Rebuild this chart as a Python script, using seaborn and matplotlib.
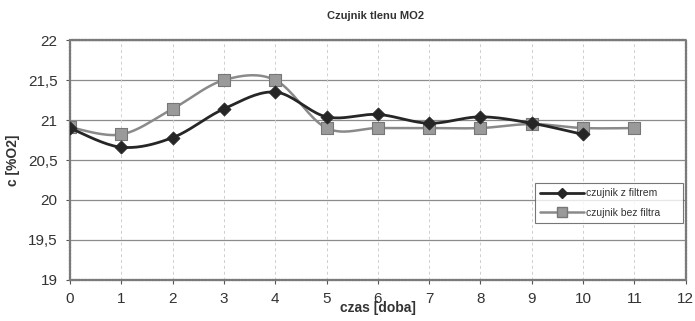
import numpy as np
import pandas as pd
import matplotlib
matplotlib.use("Agg")
import matplotlib.pyplot as plt
import seaborn as sns

title = "Czujnik tlenu MO2"
xlabel = "czas [doba]"
ylabel = "c [%O2]"
series_names = ["czujnik z filtrem", "czujnik bez filtra"]
days_filter = [0, 1, 2, 3, 4, 5, 6, 7, 8, 9, 10]
vals_filter = [20.9, 20.66, 20.78, 21.14, 21.35, 21.04, 21.07, 20.96, 21.04, 20.96, 20.82]
days_nofilter = [0, 1, 2, 3, 4, 5, 6, 7, 8, 9, 10, 11]
vals_nofilter = [20.91, 20.82, 21.14, 21.5, 21.5, 20.9, 20.9, 20.9, 20.9, 20.95, 20.9, 20.9]
yticks = [19, 19.5, 20, 20.5, 21, 21.5, 22]
ytick_labels = ["19", "19,5", "20", "20,5", "21", "21,5", "22"]
xticks = list(range(0, 13))

sns.set_theme(style="white")
plt.rcParams['font.family'] = ['Liberation Sans', 'DejaVu Sans']

fig = plt.figure(figsize=(6.95, 3.21), dpi=100)
ax = fig.add_axes([0.1007, 0.128, 0.886, 0.747])


def smooth(x, y, n=20):
    # Catmull-Rom style smoothing for drawing the curve through data points
    x = np.asarray(x, float); y = np.asarray(y, float)
    px = np.concatenate([[x[0]], x, [x[-1]]])
    py = np.concatenate([[y[0]], y, [y[-1]]])
    ox, oy = [], []
    for i in range(1, len(px) - 2):
        p0, p1, p2, p3 = (np.array([px[j], py[j]]) for j in (i - 1, i, i + 1, i + 2))
        c1 = p1 + (p2 - p0) / 6
        c2 = p2 - (p3 - p1) / 6
        t = np.linspace(0, 1, n, endpoint=(i == len(px) - 3))
        pts = ((1 - t) ** 3)[:, None] * p1 + (3 * (1 - t) ** 2 * t)[:, None] * c1 + \
              (3 * (1 - t) * t ** 2)[:, None] * c2 + (t ** 3)[:, None] * p2
        ox.extend(pts[:, 0]); oy.extend(pts[:, 1])
    return np.array(ox), np.array(oy)


c_nf = "#8a8a8a"
c_f = "#262626"

sx, sy = smooth(days_nofilter, vals_nofilter)
sns.lineplot(x=sx, y=sy, ax=ax, color=c_nf, lw=1.8, sort=False, zorder=3)
sns.scatterplot(x=days_nofilter, y=vals_nofilter, ax=ax, marker="s", s=75,
                color="#9a9a9a", edgecolor="#777777", linewidth=0.8, zorder=4)
sx, sy = smooth(days_filter, vals_filter)
sns.lineplot(x=sx, y=sy, ax=ax, color=c_f, lw=2.0, sort=False, zorder=5)
sns.scatterplot(x=days_filter, y=vals_filter, ax=ax, marker="D", s=45,
                color=c_f, edgecolor=c_f, linewidth=0.5, zorder=6)

ax.set_xlim(0, 12)
ax.set_ylim(19, 22)
ax.set_xticks(xticks)
ax.set_xticklabels([str(v) for v in xticks], fontsize=11, color="#333333")
ax.set_yticks(yticks)
ax.set_yticklabels(ytick_labels, fontsize=11, color="#333333")
ax.tick_params(axis="both", length=3, width=0.8, color="#555555", pad=6)
ax.tick_params(axis="y", left=True)
ax.tick_params(axis="x", bottom=True)

for y in yticks:
    ax.axhline(y, color="#8c8c8c", lw=0.9, zorder=1)
for x in xticks[1:-1]:
    ax.axvline(x, color="#cfcfcf", lw=0.7, ls=(0, (3, 3)), zorder=1)

for s in ax.spines.values():
    s.set_color("#7a7a7a")
    s.set_linewidth(1.6)
    s.set_linestyle((0, (1, 0.5)))

fig.text(0.54, 0.95, title, ha="center", va="center", fontsize=8, fontweight="bold", color="#333333")
ax.set_xlabel(xlabel, fontsize=10, fontweight="bold", color="#333333", labelpad=-4)
ax.set_ylabel(ylabel, fontsize=10, fontweight="bold", color="#333333", labelpad=6)

from matplotlib.lines import Line2D
handles = [Line2D([], [], color=c_f, lw=2, marker="D", ms=5, mfc=c_f),
           Line2D([], [], color=c_nf, lw=1.8, marker="s", ms=7, mfc="#9a9a9a", mec="#777777")]
leg = ax.legend(handles, series_names, loc="upper left", bbox_to_anchor=(0.755, 0.229, 0.24, 0.175),
                mode="expand", borderaxespad=0,
                fontsize=7.5, frameon=True, fancybox=False, edgecolor="#555555",
                handlelength=4.2, handletextpad=0.2, borderpad=0.5, labelspacing=0.9)
leg.get_frame().set_linewidth(0.8)
for t in leg.get_texts():
    t.set_color("#333333")

fig.savefig("out.png", dpi=100)
